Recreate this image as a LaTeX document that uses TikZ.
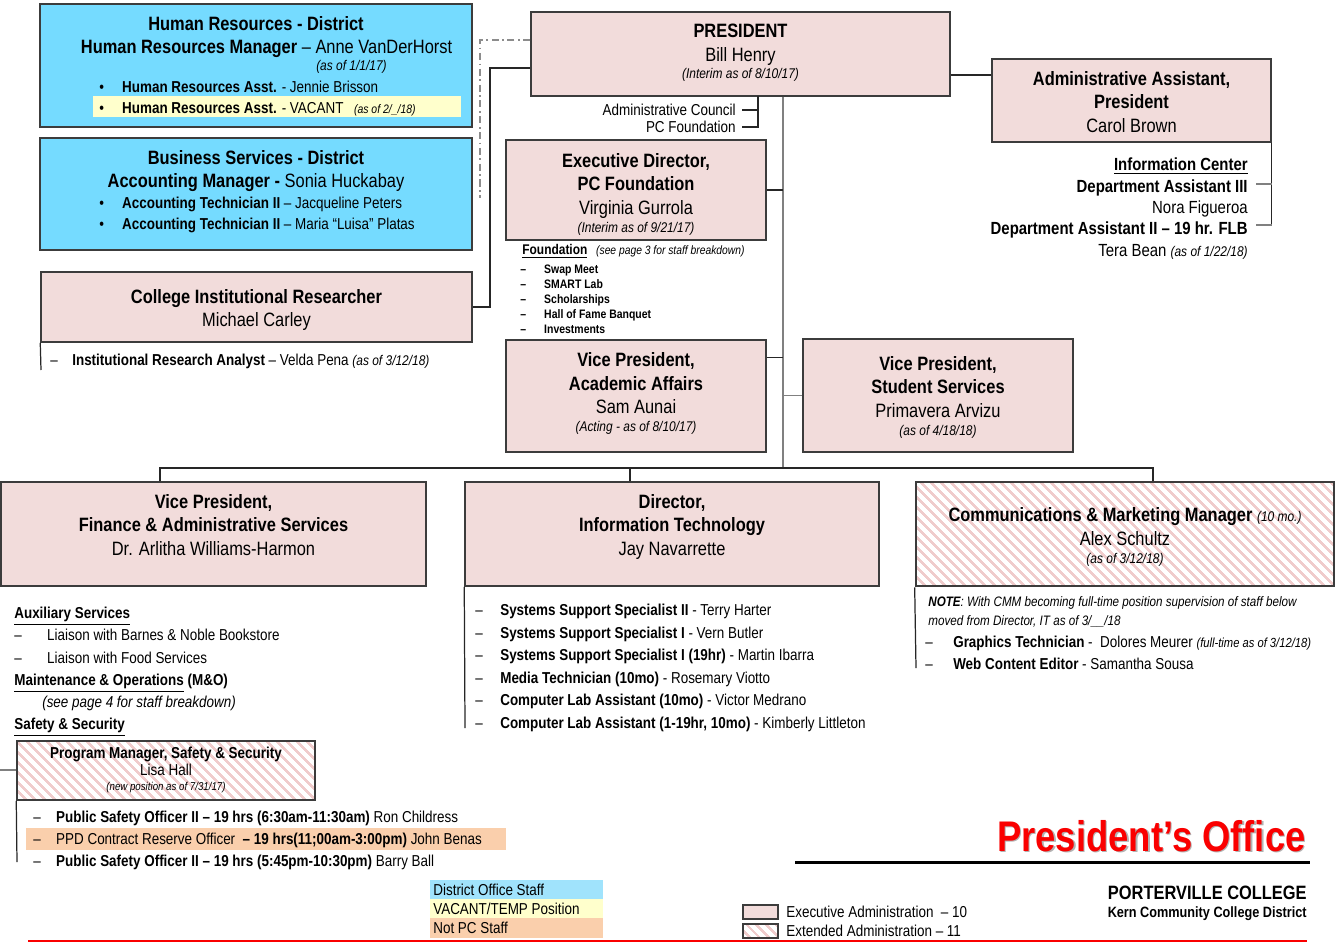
\documentclass[tikz,border=0pt]{standalone}
\usepackage{fontspec}
\setmainfont{Liberation Sans}[FakeStretch=0.85]
\usetikzlibrary{calc,fit,patterns.meta}
\definecolor{PCpink}{RGB}{242,220,219}
\definecolor{PCline}{RGB}{60,60,60}
\definecolor{PCcyan}{RGB}{117,219,255}
\definecolor{PCcyanL}{RGB}{160,227,252}
\definecolor{PCyellow}{RGB}{255,255,204}
\definecolor{PCorange}{RGB}{250,207,172}
\definecolor{PChatch}{RGB}{240,204,204}
\definecolor{PCred}{RGB}{250,0,0}
\newcommand{\fz}[2]{\fontsize{#1}{#2}\selectfont}
\newcommand{\dsh}[1]{\makebox[#1][l]{–}}
\newcommand{\bul}{\makebox[13pt][l]{\textbullet}}
\newcommand{\asof}[1]{{\fz{8}{10}\itshape #1}}
\tikzset{
  pbox/.style={draw=PCline, line width=0.85pt, fill=PCpink, inner sep=0pt},
  dbox/.style={pbox, fill=PCcyan},
  hbox/.style={draw=PCline, line width=0.85pt, inner sep=0pt,
    pattern={Lines[angle=-45,distance=4pt,line width=1.5pt]},
    pattern color=PChatch},
  btxt/.style={align=center, inner sep=0pt, anchor=north, font=\fz{11}{13.4}},
  ltxt/.style={align=left, inner sep=0pt, anchor=north west, font=\fz{9}{12.6}},
  rtxt/.style={align=right, inner sep=0pt, anchor=north east, font=\fz{10}{12.2}},
  stxt/.style={inner sep=0pt, font=\fz{9}{11}},
  conn/.style={draw=black!85, line width=0.7pt},
  glink/.style={draw=black!50, line width=0.9pt},
  dlink/.style={draw=black!45, line width=0.6pt, dash pattern=on 4pt off 2pt on 1pt off 2pt},
}
\begin{document}
\begin{tikzpicture}[x=0.02cm, y=-0.02cm]
  \useasboundingbox (0,0) rectangle (1335,943);

  % ---- district staff ------------------------------------------------------
  \node[dbox, fit={(40,4)(472,127)}] (hr) {};
  \fill[PCyellow] (93,96) rectangle (461,117);
  \node[btxt] (hrT) at ($(hr.north)+(0,12.6)$)
    {\textbf{Human Resources - District}\\\hspace*{12pt}\textbf{Human Resources Manager} – Anne VanDerHorst};
  \node[anchor=east, inner sep=0pt, font=\fz{8}{10}\itshape] (hrD) at (387,67) {(as of 1/1/17)};
  \node[ltxt, font=\fz{9}{11.9}] (hrL) at (99,81)
    {\bul\textbf{Human Resources Asst.} - Jennie Brisson\\
     \bul\textbf{Human Resources Asst.} - VACANT\hspace{6pt}{\fz{7}{9}\itshape (as of 2/\_/18)}};

  \node[dbox, fit={(40,138)(472,250)}] (bs) {};
  \node[btxt] (bsT) at ($(bs.north)+(0,12.6)$)
    {\textbf{Business Services - District}\\\textbf{Accounting Manager -} Sonia Huckabay};
  \node[ltxt, font=\fz{9}{11.9}] (bsL) at (99,197)
    {\bul\textbf{Accounting Technician II} – Jacqueline Peters\\
     \bul\textbf{Accounting Technician II} – Maria “Luisa” Platas};

  \node[pbox, fit={(41,272)(472,342)}] (res) {};
  \node[btxt] (resT) at ($(res.north)+(0,17.6)$)
    {\textbf{College Institutional Researcher}\\Michael Carley};
  \node[stxt, anchor=west] (resL) at (50,361)
    {\dsh{12.5pt}\textbf{Institutional Research Analyst} – Velda Pena \asof{(as of 3/12/18)}};
  \coordinate (resEnd) at (41,370);
  \draw[conn] (res.south west) -- (resEnd);

  % ---- president -----------------------------------------------------------
  \node[pbox, fit={(531,12)(950,96)}] (pres) {};
  \node[btxt] (presT) at ($(pres.north)+(0,12.6)$)
    {\textbf{PRESIDENT}\\Bill Henry\\[-3.4pt]\asof{(Interim as of 8/10/17)}};

  \coordinate (dd1) at (480,40);
  \coordinate (dd2) at (480,198);
  \draw[dlink] (pres.west |- dd1) -- (dd1) -- (dd2);
  \coordinate (rj) at (490,68);
  \draw[conn] (pres.west |- rj) -- (rj) |- (res.east);

  \node[stxt, anchor=east, inner xsep=3.4pt] (council) at (742,110) {Administrative Council};
  \node[stxt, anchor=east, inner xsep=3.4pt] (pcf) at (742,127) {PC Foundation};
  \coordinate (cTop) at (758,96);
  \draw[conn] (council.east) -| (cTop);
  \draw[conn] (pcf.east) -| (cTop);

  \coordinate (bus) at (783,468);
  \draw[glink] (pres.south -| bus) -- (bus);

  % ---- administrative assistant --------------------------------------------
  \node[pbox, fit={(992,59)(1271,142)}] (adm) {};
  \node[btxt] (admT) at ($(adm.north)+(0,12.6)$)
    {\textbf{Administrative Assistant,}\\\textbf{President}\\Carol Brown};
  \coordinate (admJ) at (971,75);
  \draw[conn] (pres.east |- admJ) -- (adm.west |- admJ);
  \node[rtxt] (info) at (1248,157.5)
    {\textbf{\underline{Information Center}}\\\textbf{Department Assistant III}\\Nora Figueroa\\
     \textbf{Department Assistant II – 19 hr. FLB}\\Tera Bean \asof{(as of 1/22/18)}};
  \coordinate (da3) at (1256,184);
  \coordinate (da2) at (1256,225);
  \draw[conn] (adm.south east) -- (adm.south east |- da2);
  \draw[glink, line width=0.7pt] (da3) -- (da3 -| adm.south east);
  \draw[glink, line width=0.7pt] (da2) -- (da2 -| adm.south east);

  % ---- foundation ----------------------------------------------------------
  \node[pbox, fit={(506,140)(766,240)}] (exd) {};
  \node[btxt] (exdT) at ($(exd.north)+(0,13.6)$)
    {\textbf{Executive Director,}\\\textbf{PC Foundation}\\Virginia Gurrola\\[-3pt]\asof{(Interim as of 9/21/17)}};
  \draw[conn] (exd.east) -- (exd.east -| bus);
  \node[anchor=west, inner sep=0pt, font=\fz{8}{10}] (fdH) at (522,251)
    {\textbf{\underline{Foundation}}\hspace{5pt}{\fz{6.9}{8}\itshape(see page 3 for staff breakdown)}};
  \node[ltxt, font=\fz{7}{8.5}\bfseries] (fdL) at (520,264.5)
    {\dsh{13.6pt}Swap Meet\\\dsh{13.6pt}SMART Lab\\\dsh{13.6pt}Scholarships\\
     \dsh{13.6pt}Hall of Fame Banquet\\\dsh{13.6pt}Investments};

  % ---- vice presidents -----------------------------------------------------
  \node[pbox, fit={(506,340)(766,452)}] (vpaa) {};
  \node[btxt] (vpaaT) at ($(vpaa.north)+(0,13)$)
    {\textbf{Vice President,}\\\textbf{Academic Affairs}\\Sam Aunai\\[-3.2pt]\asof{(Acting - as of 8/10/17)}};
  \coordinate (aaJ) at ($(vpaa.north east)!0.16!(vpaa.south east)$);
  \draw[conn] (aaJ) -- (aaJ -| bus);

  \node[pbox, fit={(803,339)(1073,452)}] (vpss) {};
  \node[btxt] (vpssT) at ($(vpss.north)+(0,17.6)$)
    {\textbf{Vice President,}\\\textbf{Student Services}\\Primavera Arvizu\\[-3.2pt]\asof{(as of 4/18/18)}};
  \draw[glink] (vpss.west) -- (vpss.west -| bus);

  % ---- second row ----------------------------------------------------------
  \node[pbox, fit={(1,482)(426,586)}] (fin) {};
  \node[pbox, fit={(465,482)(879,586)}] (it) {};
  \node[hbox, fit={(916,482)(1334,586)}] (cmm) {};
  \coordinate (busL) at (160,468);
  \coordinate (busM) at (630,468);
  \coordinate (busR) at (1153,468);
  \draw[conn] (fin.north -| busL) -- (busL) -- (busR) -- (cmm.north -| busR);
  \draw[conn] (busM) -- (it.north -| busM);

  \node[btxt] (finT) at ($(fin.north)+(0,12.6)$)
    {\textbf{Vice President,}\\\textbf{Finance \& Administrative Services}\\Dr. Arlitha Williams-Harmon};
  \node[btxt] (itT) at ($(it.north)+(0,12.6)$)
    {\textbf{Director,}\\\textbf{Information Technology}\\Jay Navarrette};
  \node[btxt] (cmmT) at ($(cmm.north)+(0,26.5)$)
    {\textbf{Communications \& Marketing Manager} \asof{(10 mo.)}\\Alex Schultz\\[-3pt]\asof{(as of 3/12/18)}};

  \node[ltxt, font=\fz{9}{12.6}] (finL) at (14,607)
    {\textbf{\underline{Auxiliary Services}}\\
     \dsh{18.7pt}Liaison with Barnes \& Noble Bookstore\\
     \dsh{18.7pt}Liaison with Food Services\\
     \textbf{\underline{Maintenance \& Operations} (M\&O)}\\
     \hspace*{15.9pt}\textit{(see page 4 for staff breakdown)}\\
     \textbf{\underline{Safety \& Security}}};

  \node[ltxt, font=\fz{9}{12.8}] (itL) at (475,604)
    {\dsh{14.2pt}\textbf{Systems Support Specialist II} - Terry Harter\\
     \dsh{14.2pt}\textbf{Systems Support Specialist I} - Vern Butler\\
     \dsh{14.2pt}\textbf{Systems Support Specialist I (19hr)} - Martin Ibarra\\
     \dsh{14.2pt}\textbf{Media Technician (10mo)} - Rosemary Viotto\\
     \dsh{14.2pt}\textbf{Computer Lab Assistant (10mo)} - Victor Medrano\\
     \dsh{14.2pt}\textbf{Computer Lab Assistant (1-19hr, 10mo)} - Kimberly Littleton};
  \coordinate (itEnd) at (465,728);
  \draw[conn] (it.south west) -- (itEnd);

  \node[ltxt, font=\fz{7.8}{10.8}\itshape] (cmmN) at (928,596.5)
    {\textbf{NOTE}: With CMM becoming full-time position supervision of staff below\\
     moved from Director, IT as of 3/\_\_/18};
  \node[ltxt, font=\fz{9}{12.4}] (cmmL) at (925,636)
    {\dsh{15.9pt}\textbf{Graphics Technician} -\ \ Dolores Meurer {\fz{7.5}{9}\itshape(full-time as of 3/12/18)}\\
     \dsh{15.9pt}\textbf{Web Content Editor} - Samantha Sousa};
  \coordinate (cmmEnd) at (916,668);
  \draw[conn] (cmm.south west) -- (cmmEnd);

  % ---- safety & security ---------------------------------------------------
  \node[hbox, fit={(17,741)(315,800)}] (pm) {};
  \node[btxt, font=\fz{9}{10.2}] (pmT) at ($(pm.north)+(0,6)$)
    {\textbf{Program Manager, Safety \& Security}\\Lisa Hall\\[-1.9pt]{\fz{6.5}{8}\itshape(new position as of 7/31/17)}};
  \coordinate (pmIn) at (0,770);
  \draw[glink] (pmIn) -- (pm.west |- pmIn);
  \fill[PCorange] (26,828) rectangle (506,850);
  \node[ltxt, font=\fz{9}{12.4}] (pmL) at (33,811)
    {\dsh{13pt}\textbf{Public Safety Officer II – 19 hrs (6:30am-11:30am)} Ron Childress\\
     \dsh{13pt}PPD Contract Reserve Officer\ \ \textbf{– 19 hrs(11;00am-3:00pm)} John Benas\\
     \dsh{13pt}\textbf{Public Safety Officer II – 19 hrs (5:45pm-10:30pm)} Barry Ball};
  \coordinate (pmEnd) at (17,862);
  \draw[conn] (pm.south west) -- (pmEnd);

  % ---- legends -------------------------------------------------------------
  \node[fill=PCcyanL, inner sep=0pt, fit={(430,880)(603,899)}] (lgD) {};
  \node[fill=PCyellow, inner sep=0pt, fit={(430,899)(603,918)}] (lgV) {};
  \node[fill=PCorange, inner sep=0pt, fit={(430,918)(603,938)}] (lgN) {};
  \node[stxt, anchor=west] (lgDT) at (433,889.5) {District Office Staff};
  \node[stxt, anchor=west] (lgVT) at (433,908.5) {VACANT/TEMP Position};
  \node[stxt, anchor=west] (lgNT) at (433,928) {Not PC Staff};

  \node[pbox, line width=0.7pt, fit={(743,905)(778,919)}] (lgE) {};
  \node[hbox, line width=0.7pt, fit={(743,924)(778,938)}] (lgX) {};
  \node[stxt, anchor=west] (lgET) at (786,912) {Executive Administration\ \ – 10};
  \node[stxt, anchor=west] (lgXT) at (786,931) {Extended Administration – 11};

  % ---- title block ---------------------------------------------------------
  \node[anchor=east, inner sep=0pt, font=\fz{24.4}{28}\bfseries, text=black!30] (titleS) at (1307.5,837.5) {President’s Office};
  \node[anchor=east, inner sep=0pt, font=\fz{24.4}{28}\bfseries, text=PCred] (title) at (1306,836) {President’s Office};
  \coordinate (ruleL) at (795,862);
  \coordinate (ruleR) at (1310,862);
  \draw[line width=1.7pt] (ruleL) -- (ruleR);
  \node[anchor=east, inner sep=0pt, font=\fz{11}{13}\bfseries] (college) at (1307,893) {PORTERVILLE COLLEGE};
  \node[anchor=east, inner sep=0pt, font=\fz{8.5}{10}\bfseries] (kccd) at (1307,914) {Kern Community College District};
  \coordinate (footL) at (28,941);
  \coordinate (footR) at (1307,941);
  \draw[PCred, line width=0.8pt] (footL) -- (footR);
\end{tikzpicture}
\end{document}
